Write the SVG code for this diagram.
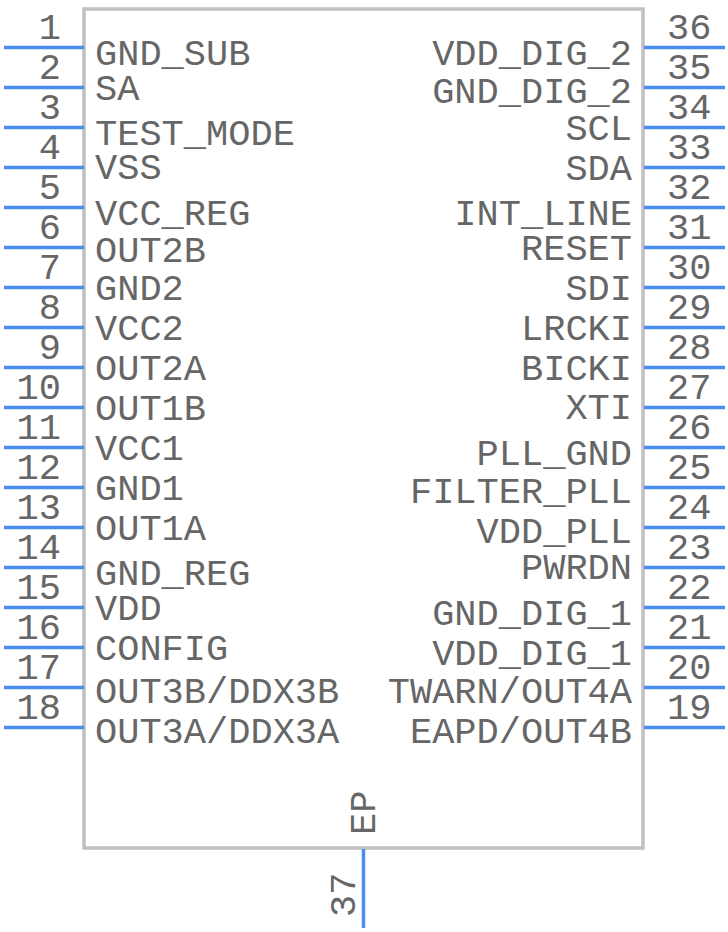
<svg xmlns="http://www.w3.org/2000/svg" width="728" height="932" viewBox="0 0 728 932">
<style>
.body{fill:#ffffff;stroke:#c0c0c0;stroke-width:3.5}
.pin{stroke:#4a8cf0;stroke-width:3.5;fill:none}
text{font-family:"Liberation Mono","DejaVu Sans Mono",monospace;font-size:37px;fill:#666666}
.l{text-anchor:start}
.r{text-anchor:end}
.nl{text-anchor:end}
.nr{text-anchor:start}
</style>
<rect width="728" height="932" fill="#ffffff"/>
<g id="body"><rect class="body" x="84" y="9" width="559" height="839"/></g>
<g id="left-pins">
<g id="pin1"><line class="pin" x1="4" y1="47.5" x2="84" y2="47.5"/><text class="nl" x="61" y="39">1</text><text class="l" x="95" y="65">GND_SUB</text></g>
<g id="pin2"><line class="pin" x1="4" y1="87.5" x2="84" y2="87.5"/><text class="nl" x="61" y="79">2</text><text class="l" x="95" y="100">SA</text></g>
<g id="pin3"><line class="pin" x1="4" y1="127.5" x2="84" y2="127.5"/><text class="nl" x="61" y="119">3</text><text class="l" x="95" y="145">TEST_MODE</text></g>
<g id="pin4"><line class="pin" x1="4" y1="167.5" x2="84" y2="167.5"/><text class="nl" x="61" y="159">4</text><text class="l" x="95" y="179">VSS</text></g>
<g id="pin5"><line class="pin" x1="4" y1="207.5" x2="84" y2="207.5"/><text class="nl" x="61" y="199">5</text><text class="l" x="95" y="225">VCC_REG</text></g>
<g id="pin6"><line class="pin" x1="4" y1="247.5" x2="84" y2="247.5"/><text class="nl" x="61" y="239">6</text><text class="l" x="95" y="262">OUT2B</text></g>
<g id="pin7"><line class="pin" x1="4" y1="287.5" x2="84" y2="287.5"/><text class="nl" x="61" y="279">7</text><text class="l" x="95" y="300">GND2</text></g>
<g id="pin8"><line class="pin" x1="4" y1="327.5" x2="84" y2="327.5"/><text class="nl" x="61" y="319">8</text><text class="l" x="95" y="340">VCC2</text></g>
<g id="pin9"><line class="pin" x1="4" y1="367.5" x2="84" y2="367.5"/><text class="nl" x="61" y="359">9</text><text class="l" x="95" y="380">OUT2A</text></g>
<g id="pin10"><line class="pin" x1="4" y1="407.5" x2="84" y2="407.5"/><text class="nl" x="61" y="399">10</text><text class="l" x="95" y="420">OUT1B</text></g>
<g id="pin11"><line class="pin" x1="4" y1="447.5" x2="84" y2="447.5"/><text class="nl" x="61" y="439">11</text><text class="l" x="95" y="460">VCC1</text></g>
<g id="pin12"><line class="pin" x1="4" y1="487.5" x2="84" y2="487.5"/><text class="nl" x="61" y="479">12</text><text class="l" x="95" y="500">GND1</text></g>
<g id="pin13"><line class="pin" x1="4" y1="527.5" x2="84" y2="527.5"/><text class="nl" x="61" y="519">13</text><text class="l" x="95" y="540">OUT1A</text></g>
<g id="pin14"><line class="pin" x1="4" y1="567.5" x2="84" y2="567.5"/><text class="nl" x="61" y="559">14</text><text class="l" x="95" y="585">GND_REG</text></g>
<g id="pin15"><line class="pin" x1="4" y1="607.5" x2="84" y2="607.5"/><text class="nl" x="61" y="599">15</text><text class="l" x="95" y="620">VDD</text></g>
<g id="pin16"><line class="pin" x1="4" y1="647.5" x2="84" y2="647.5"/><text class="nl" x="61" y="639">16</text><text class="l" x="95" y="660">CONFIG</text></g>
<g id="pin17"><line class="pin" x1="4" y1="687.5" x2="84" y2="687.5"/><text class="nl" x="61" y="679">17</text><text class="l" x="95" y="703">OUT3B/DDX3B</text></g>
<g id="pin18"><line class="pin" x1="4" y1="727.5" x2="84" y2="727.5"/><text class="nl" x="61" y="719">18</text><text class="l" x="95" y="743">OUT3A/DDX3A</text></g>
</g>
<g id="right-pins">
<g id="pin36"><line class="pin" x1="644" y1="47.5" x2="725" y2="47.5"/><text class="nr" x="667" y="39">36</text><text class="r" x="632" y="65">VDD_DIG_2</text></g>
<g id="pin35"><line class="pin" x1="644" y1="87.5" x2="725" y2="87.5"/><text class="nr" x="667" y="79">35</text><text class="r" x="632" y="103">GND_DIG_2</text></g>
<g id="pin34"><line class="pin" x1="644" y1="127.5" x2="725" y2="127.5"/><text class="nr" x="667" y="119">34</text><text class="r" x="632" y="140">SCL</text></g>
<g id="pin33"><line class="pin" x1="644" y1="167.5" x2="725" y2="167.5"/><text class="nr" x="667" y="159">33</text><text class="r" x="632" y="180">SDA</text></g>
<g id="pin32"><line class="pin" x1="644" y1="207.5" x2="725" y2="207.5"/><text class="nr" x="667" y="199">32</text><text class="r" x="632" y="225">INT_LINE</text></g>
<g id="pin31"><line class="pin" x1="644" y1="247.5" x2="725" y2="247.5"/><text class="nr" x="667" y="239">31</text><text class="r" x="632" y="260">RESET</text></g>
<g id="pin30"><line class="pin" x1="644" y1="287.5" x2="725" y2="287.5"/><text class="nr" x="667" y="279">30</text><text class="r" x="632" y="300">SDI</text></g>
<g id="pin29"><line class="pin" x1="644" y1="327.5" x2="725" y2="327.5"/><text class="nr" x="667" y="319">29</text><text class="r" x="632" y="340">LRCKI</text></g>
<g id="pin28"><line class="pin" x1="644" y1="367.5" x2="725" y2="367.5"/><text class="nr" x="667" y="359">28</text><text class="r" x="632" y="380">BICKI</text></g>
<g id="pin27"><line class="pin" x1="644" y1="407.5" x2="725" y2="407.5"/><text class="nr" x="667" y="399">27</text><text class="r" x="632" y="419">XTI</text></g>
<g id="pin26"><line class="pin" x1="644" y1="447.5" x2="725" y2="447.5"/><text class="nr" x="667" y="439">26</text><text class="r" x="632" y="465">PLL_GND</text></g>
<g id="pin25"><line class="pin" x1="644" y1="487.5" x2="725" y2="487.5"/><text class="nr" x="667" y="479">25</text><text class="r" x="632" y="503">FILTER_PLL</text></g>
<g id="pin24"><line class="pin" x1="644" y1="527.5" x2="725" y2="527.5"/><text class="nr" x="667" y="519">24</text><text class="r" x="632" y="543">VDD_PLL</text></g>
<g id="pin23"><line class="pin" x1="644" y1="567.5" x2="725" y2="567.5"/><text class="nr" x="667" y="559">23</text><text class="r" x="632" y="579">PWRDN</text></g>
<g id="pin22"><line class="pin" x1="644" y1="607.5" x2="725" y2="607.5"/><text class="nr" x="667" y="599">22</text><text class="r" x="632" y="625">GND_DIG_1</text></g>
<g id="pin21"><line class="pin" x1="644" y1="647.5" x2="725" y2="647.5"/><text class="nr" x="667" y="639">21</text><text class="r" x="632" y="665">VDD_DIG_1</text></g>
<g id="pin20"><line class="pin" x1="644" y1="687.5" x2="725" y2="687.5"/><text class="nr" x="667" y="679">20</text><text class="r" x="632" y="703">TWARN/OUT4A</text></g>
<g id="pin19"><line class="pin" x1="644" y1="727.5" x2="725" y2="727.5"/><text class="nr" x="667" y="719">19</text><text class="r" x="632" y="743">EAPD/OUT4B</text></g>
</g>
<g id="bottom-pins">
<g id="pin37"><line class="pin" x1="363.5" y1="849" x2="363.5" y2="928"/><text transform="translate(355,917) rotate(-90)">37</text><text transform="translate(375,835) rotate(-90)">EP</text></g>
</g>
<g id="connectors"></g>
</svg>
